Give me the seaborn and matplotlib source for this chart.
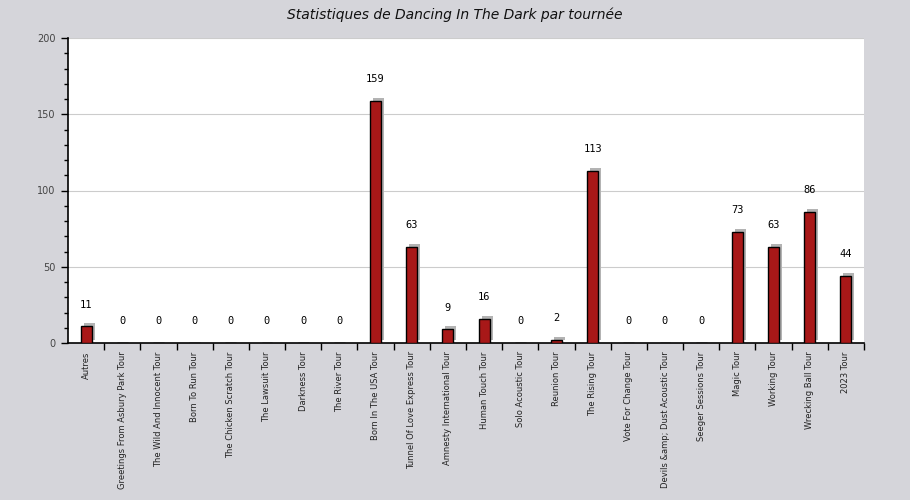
import numpy as np
import pandas as pd
import matplotlib
matplotlib.use("Agg")
import matplotlib.pyplot as plt
import matplotlib.transforms as mtransforms
from matplotlib.ticker import MultipleLocator, FixedLocator
import seaborn as sns

# Tours and number of times the song was played
tours = [
    "Autres", "Greetings From Asbury Park Tour", "The Wild And Innocent Tour",
    "Born To Run Tour", "The Chicken Scratch Tour", "The Lawsuit Tour",
    "Darkness Tour", "The River Tour", "Born In The USA Tour",
    "Tunnel Of Love Express Tour", "Amnesty International Tour",
    "Human Touch Tour", "Solo Acoustic Tour", "Reunion Tour", "The Rising Tour",
    "Vote For Change Tour", "Devils &amp; Dust Acoustic Tour",
    "Seeger Sessions Tour", "Magic Tour", "Working Tour", "Wrecking Ball Tour",
    "2023 Tour",
]
counts = [11, 0, 0, 0, 0, 0, 0, 0, 159, 63, 9, 16, 0, 2, 113, 0, 0, 0, 73, 63, 86, 44]

df = pd.DataFrame({"tour": tours, "count": counts})

bg = "#d5d5da"
sns.set_style("white")
plt.rcParams["font.family"] = ["DejaVu Sans"]

fig = plt.figure(figsize=(9.1, 5), dpi=100, facecolor=bg)
ax = fig.add_axes([68 / 910, 157 / 500, 796 / 910, 305 / 500])
ax.set_facecolor("white")

# shadow bars, shifted a few pixels up and right
sns.barplot(data=df, x="tour", y="count", color="#b3b3b3", width=0.3,
            saturation=1, ax=ax, zorder=2)
shift = mtransforms.ScaledTranslation(3 / 100, 3 / 100, fig.dpi_scale_trans)
for p in list(ax.patches):
    p.set_transform(ax.transData + shift)
    p.set_edgecolor("none")

# main bars
sns.barplot(data=df, x="tour", y="count", color="#a81818", width=0.3,
            saturation=1, edgecolor="black", linewidth=1, ax=ax, zorder=3)
ax.bar_label(ax.containers[-1], labels=[str(c) for c in counts], padding=12,
             fontsize=7.5, family="DejaVu Sans Mono", color="black")

ax.set_ylim(0, 200)
ax.set_xlim(-0.5, len(tours) - 0.5)
ax.yaxis.set_major_locator(MultipleLocator(50))
ax.yaxis.set_minor_locator(MultipleLocator(10))
ax.grid(axis="y", which="major", color="#cccccc", linewidth=0.8, zorder=0)
ax.set_axisbelow(True)

ax.xaxis.set_minor_locator(FixedLocator(np.arange(len(tours)) + 0.5))
ax.tick_params(axis="x", which="major", length=0, pad=6)
ax.tick_params(axis="x", which="minor", length=5, width=1, direction="out",
               color="black", bottom=True)
ax.tick_params(axis="y", which="major", length=5, width=1, direction="out",
               color="black", left=True, labelsize=7, labelcolor="#444444", pad=4)
ax.tick_params(axis="y", which="minor", length=3, width=1, direction="out",
               color="black", left=True)

for lab in ax.get_xticklabels():
    lab.set_rotation(90)
    lab.set_fontsize(6)
    lab.set_family(["Liberation Sans Narrow", "DejaVu Sans"])
    lab.set_color("#222222")

for side in ["top", "right"]:
    ax.spines[side].set_visible(False)
for side in ["left", "bottom"]:
    ax.spines[side].set_color("black")
    ax.spines[side].set_linewidth(1.2)

ax.set_xlabel("")
ax.set_ylabel("")
fig.suptitle("Statistiques de Dancing In The Dark par tournée", y=0.985,
             fontsize=10, style="italic", color="#111111")

fig.savefig("out.png", dpi=100, facecolor=bg)
